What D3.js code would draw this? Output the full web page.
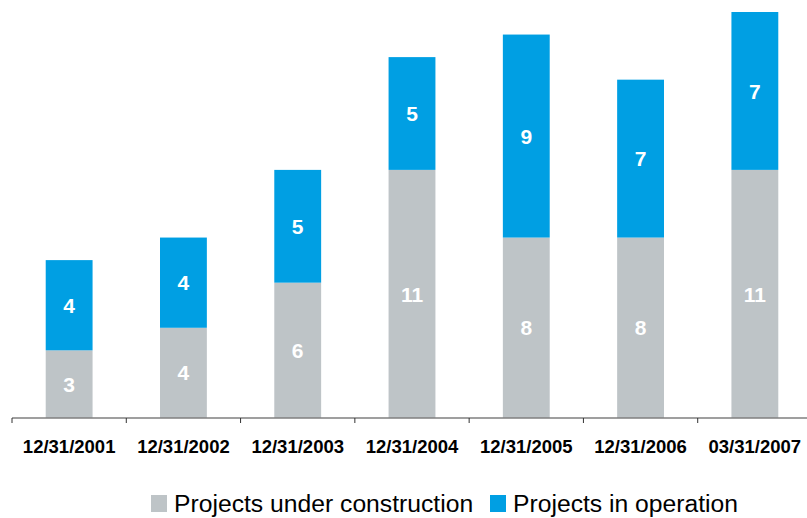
<!DOCTYPE html>
<html lang="en">
<head>
    <meta charset="UTF-8">
    <title>Projects under construction and in operation</title>
    <script src="https://d3js.org/d3.v7.min.js"></script>
    <style>
        body { margin: 0; background: #fff; }
        text { font-family: Arial, "Liberation Sans", sans-serif; }
    </style>
</head>
<body>
    <svg id="chart" width="807" height="518"></svg>
    <script>
        // data
        const dates = ["12/31/2001", "12/31/2002", "12/31/2003", "12/31/2004", "12/31/2005", "12/31/2006", "03/31/2007"];
        const underConstruction = [3, 4, 6, 11, 8, 8, 11];
        const inOperation = [4, 4, 5, 5, 9, 7, 7];
        const seriesNames = ["Projects under construction", "Projects in operation"];
        const colors = ["#bec4c7", "#009fe3"];

        const svg = d3.select("#chart");
        const baseY = 418;

        const x = d3.scaleBand()
            .domain(dates)
            .range([12, 812])
            .paddingInner(0.59)
            .paddingOuter(0.295);

        const y = d3.scaleLinear()
            .domain([0, 18])
            .range([baseY, 12]);

        const rows = dates.map((d, i) => ({ date: d, uc: underConstruction[i], op: inOperation[i] }));
        const stack = d3.stack().keys(["uc", "op"])(rows);

        const layers = svg.selectAll("g.layer")
            .data(stack)
            .join("g")
            .attr("class", "layer")
            .attr("fill", (d, i) => colors[i]);

        layers.selectAll("rect")
            .data(d => d)
            .join("rect")
            .attr("x", d => x(d.data.date))
            .attr("width", x.bandwidth())
            .attr("y", d => y(d[1]))
            .attr("height", d => y(d[0]) - y(d[1]));

        layers.selectAll("text")
            .data(d => d)
            .join("text")
            .attr("x", d => x(d.data.date) + x.bandwidth() / 2)
            .attr("y", d => (y(d[0]) + y(d[1])) / 2)
            .attr("dy", "0.36em")
            .attr("text-anchor", "middle")
            .attr("fill", "#fff")
            .style("font-size", "21px")
            .style("font-weight", "bold")
            .text(d => d[1] - d[0]);

        // x axis: ticks sit between the bands
        const axis = svg.append("g").attr("transform", `translate(0,${baseY})`);
        axis.append("line")
            .attr("x1", 12).attr("x2", 812)
            .attr("stroke", "#7f7f7f").attr("stroke-width", 1.5);

        const edges = dates.map(d => x(d) - x.step() * x.paddingInner() / 2);
        edges.push(812);
        axis.selectAll("line.tick")
            .data(edges)
            .join("line")
            .attr("class", "tick")
            .attr("x1", d => d).attr("x2", d => d)
            .attr("y1", 0).attr("y2", 5)
            .attr("stroke", "#333").attr("stroke-width", 1);

        axis.selectAll("text")
            .data(dates)
            .join("text")
            .attr("x", d => x(d) + x.bandwidth() / 2)
            .attr("y", 35)
            .attr("text-anchor", "middle")
            .attr("fill", "#000")
            .style("font-size", "18.5px")
            .style("font-weight", "bold")
            .text(d => d);

        // legend
        const legend = svg.append("g").attr("transform", "translate(151,495)");
        const legendX = [0, 339];
        seriesNames.forEach((name, i) => {
            const item = legend.append("g").attr("transform", `translate(${legendX[i]},0)`);
            item.append("rect")
                .attr("width", 16).attr("height", 17)
                .attr("fill", colors[i]);
            item.append("text")
                .attr("x", 23).attr("y", 17)
                .attr("fill", "#000")
                .style("font-size", "24.7px")
                .text(name);
        });
    </script>
</body>
</html>
